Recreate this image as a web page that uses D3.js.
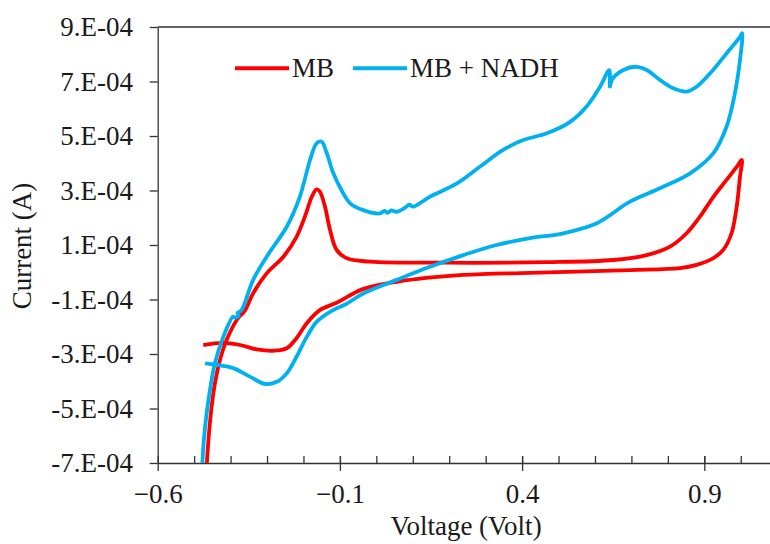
<!DOCTYPE html>
<html>
<head>
<meta charset="utf-8">
<script src="https://cdn.jsdelivr.net/npm/d3@7"></script>
<style>
  body { margin: 0; background: #fff; }
  svg text { font-family: "Liberation Serif", "Times New Roman", Times, "DejaVu Serif", serif; fill: #1a1a1a; }
</style>
</head>
<body>
<div id="chart"></div>
<script>
// MB (red) cyclic voltammogram, voltage in V, current in A
const mbV = [-0.475, -0.420, -0.374, -0.328, -0.283, -0.246, -0.219, -0.191, -0.155, -0.109,
  -0.037, 0.056, 0.238, 0.422, 0.696, 0.833, 0.879, 0.925, 0.952, 0.975, 0.989, 0.998, 1.003,
  0.989, 0.961, 0.925, 0.888, 0.852, 0.806, 0.742, 0.650, 0.468, 0.193, -0.017, -0.081, -0.109,
  -0.127, -0.141, -0.155, -0.164, -0.177, -0.196, -0.219, -0.255, -0.301, -0.338, -0.360, -0.383,
  -0.411, -0.429, -0.443, -0.455, -0.464, -0.467];
const mbI = [-2.67, -2.59, -2.67, -2.83, -2.88, -2.79, -2.42, -1.87, -1.39, -1.12,
  -0.62, -0.35, -0.10, -0.02, 0.08, 0.15, 0.27, 0.52, 0.82, 1.44, 2.41, 3.51, 4.12,
  3.87, 3.39, 2.77, 2.04, 1.44, 0.94, 0.63, 0.45, 0.37, 0.35, 0.39, 0.51, 0.82,
  1.55, 2.41, 2.96, 3.04, 2.77, 2.04, 1.30, 0.57, -0.04, -0.77, -1.39, -1.75,
  -2.49, -3.22, -4.08, -5.30, -6.77, -7.6].map(d => d * 1e-4);

// MB + NADH (blue)
const nadhV = [-0.470, -0.438, -0.393, -0.347, -0.306, -0.273, -0.246, -0.219, -0.191, -0.164,
  -0.127, -0.081, -0.036, 0.056, 0.147, 0.239, 0.330, 0.422, 0.513, 0.605, 0.696, 0.778, 0.861,
  0.925, 0.961, 0.984, 0.998, 1.004,
  0.998, 0.961, 0.916, 0.879, 0.852, 0.815, 0.778, 0.742, 0.714, 0.678, 0.646, 0.641, 0.639,
  0.614, 0.577, 0.531, 0.468, 0.403, 0.348, 0.284, 0.221, 0.147, 0.101, 0.090, 0.080, 0.056,
  0.040, 0.032, 0.022, 0.010, -0.036, -0.072, -0.091, -0.118, -0.136, -0.150, -0.164, -0.182,
  -0.210, -0.246, -0.301, -0.338, -0.370, -0.381, -0.378, -0.389, -0.393, -0.420, -0.443,
  -0.458, -0.470, -0.477, -0.478];
const nadhI = [-3.34, -3.40, -3.52, -3.83, -4.10, -4.02, -3.71, -3.10, -2.37, -1.82,
  -1.45, -1.15, -0.78, -0.28, 0.20, 0.63, 1.00, 1.25, 1.43, 1.80, 2.59, 3.08, 3.63,
  4.37, 5.34, 6.57, 7.79, 8.77,
  8.64, 8.03, 7.30, 6.81, 6.63, 6.75, 7.06, 7.42, 7.54, 7.42, 7.06, 6.81, 7.42,
  6.81, 6.08, 5.51, 5.10, 4.85, 4.49, 3.87, 3.26, 2.77, 2.41, 2.48, 2.38, 2.22,
  2.27, 2.18, 2.25, 2.16, 2.28, 2.53, 2.90, 3.63, 4.37, 4.79, 4.73, 4.12,
  2.77, 1.67, 0.57, -0.28, -1.39, -1.50, -1.62, -1.66, -1.63, -2.37, -3.34,
  -4.44, -5.67, -6.89, -7.6].map(d => d * 1e-4);

const seriesNames = ['MB', 'MB + NADH'];
const seriesColors = ['#ff0000', '#00b0f0'];

const xMajor = [-0.6, -0.1, 0.4, 0.9];
const xMinor = d3.range(-0.5, 1.11, 0.1).map(d => +d.toFixed(1));
const yTicks = [9e-4, 7e-4, 5e-4, 3e-4, 1e-4, -1e-4, -3e-4, -5e-4, -7e-4];
const yLabels = ['9.E-04', '7.E-04', '5.E-04', '3.E-04', '1.E-04', '-1.E-04', '-3.E-04', '-5.E-04', '-7.E-04'];

const W = 770, H = 544;
const plotLeft = 157.7, plotTop = 27, plotBottom = 463;
const fontStack = '"Liberation Serif", "Times New Roman", Times, "DejaVu Serif", serif';

const x = d3.scaleLinear().domain([-0.6, 1.1]).range([plotLeft, plotLeft + 1.7 * 364.4]);
const y = d3.scaleLinear().domain([-7e-4, 9e-4]).range([plotBottom, plotTop]);

const svg = d3.select('#chart').append('svg').attr('width', W).attr('height', H);

svg.append('clipPath').attr('id', 'plot-clip')
  .append('rect').attr('x', plotLeft).attr('y', plotTop).attr('width', W - plotLeft).attr('height', plotBottom - plotTop);

// top border of plot area
svg.append('line')
  .attr('x1', plotLeft).attr('x2', x(1.1)).attr('y1', plotTop).attr('y2', plotTop)
  .attr('stroke', '#333').attr('stroke-width', 1.3);

// minor x ticks (inside)
svg.append('g').attr('transform', `translate(0,${plotBottom})`)
  .call(d3.axisBottom(x).tickValues(xMinor).tickSize(-7).tickSizeOuter(0).tickFormat(''))
  .call(g => g.select('.domain').remove())
  .call(g => g.selectAll('line').attr('stroke', '#333').attr('stroke-width', 1.3));

// major x ticks (crossing)
svg.append('g').attr('transform', `translate(0,${plotBottom})`)
  .attr('font-family', null)
  .call(d3.axisBottom(x).tickValues(xMajor).tickSize(8).tickSizeOuter(0).tickFormat(d3.format('.1f')))
  .call(g => g.attr('font-family', fontStack).attr('font-size', 27))
  .call(g => g.select('.domain').attr('stroke', '#333').attr('stroke-width', 1.3))
  .call(g => g.selectAll('.tick line').attr('y1', -7).attr('stroke', '#333').attr('stroke-width', 1.3))
  .call(g => g.selectAll('.tick text').attr('y', 40).attr('dy', 0).attr('fill', '#1a1a1a'));

// y axis
svg.append('g').attr('transform', `translate(${plotLeft},0)`)
  .call(d3.axisLeft(y).tickValues(yTicks).tickSize(8).tickSizeOuter(0).tickPadding(16.7)
    .tickFormat((d, i) => yLabels[i]))
  .call(g => g.attr('font-family', fontStack).attr('font-size', 27))
  .call(g => g.select('.domain').attr('stroke', '#333').attr('stroke-width', 1.3))
  .call(g => g.selectAll('.tick line').attr('stroke', '#333').attr('stroke-width', 1.3))
  .call(g => g.selectAll('.tick text').attr('fill', '#1a1a1a'));

// axis titles
svg.append('text').attr('x', 466).attr('y', 535).attr('text-anchor', 'middle')
  .attr('font-size', 27).text('Voltage (Volt)');
svg.append('text').attr('transform', 'translate(31,246) rotate(-90)').attr('text-anchor', 'middle')
  .attr('font-size', 27).text('Current (A)');

// curves
const line = d3.line().x(d => x(d[0])).y(d => y(d[1])).curve(d3.curveCatmullRom.alpha(0.5));
const series = [d3.zip(mbV, mbI), d3.zip(nadhV, nadhI)];

const plot = svg.append('g').attr('clip-path', 'url(#plot-clip)');
series.forEach((pts, i) => {
  plot.append('path').datum(pts)
    .attr('d', line)
    .attr('fill', 'none')
    .attr('stroke', seriesColors[i])
    .attr('stroke-width', 3.8)
    .attr('stroke-linejoin', 'round');
});

// legend
const legendX = [235, 353];
const legend = svg.append('g');
seriesNames.forEach((name, i) => {
  legend.append('line')
    .attr('x1', legendX[i]).attr('x2', legendX[i] + 54).attr('y1', 68.3).attr('y2', 68.3)
    .attr('stroke', seriesColors[i]).attr('stroke-width', 4);
  legend.append('text').attr('x', legendX[i] + 57).attr('y', 76.7)
    .attr('font-size', 27).text(name);
});
</script>
</body>
</html>
